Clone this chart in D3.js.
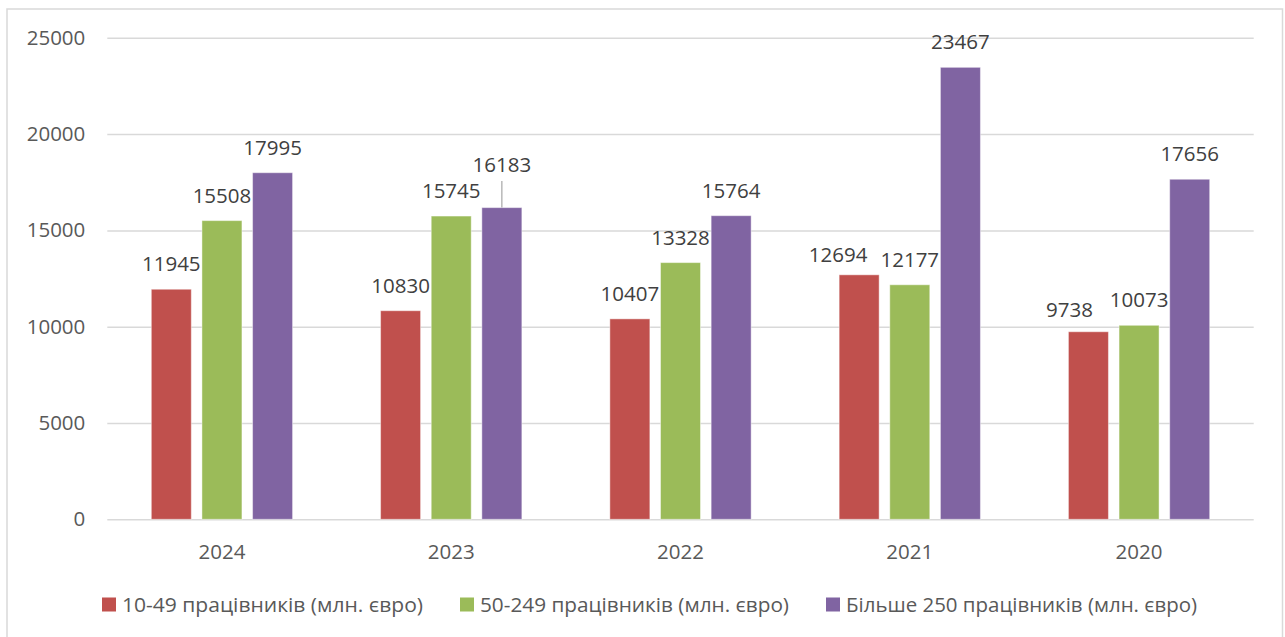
<!DOCTYPE html>
<html>
<head>
<meta charset="utf-8">
<script src="https://cdn.jsdelivr.net/npm/d3@7"></script>
<style>
  html, body { margin: 0; padding: 0; background: #ffffff; }
  svg { display: block; }
  text { font-family: "Open Sans", "Noto Sans", sans-serif; }
</style>
</head>
<body>
<svg id="chart" width="1285" height="637"></svg>
<script>
// Turnover by enterprise size, million euro
const categories = ["2024", "2023", "2022", "2021", "2020"];
const seriesNames = [
  "10-49 працівників (млн. євро)",
  "50-249 працівників (млн. євро)",
  "Більше 250 працівників (млн. євро)"
];
const small  = [11945, 10830, 10407, 12694, 9738];
const medium = [15508, 15745, 13328, 12177, 10073];
const large  = [17995, 16183, 15764, 23467, 17656];
const yTicks = [0, 5000, 10000, 15000, 20000, 25000];

const seriesValues = [small, medium, large];
const colors = ["#C0504D", "#9BBB59", "#8064A2"];

// Hand-placed label offsets (category|series -> shift in px)
const labelShift = {
  "2023|2": { dx: 0, dy: -18, leader: true },
  "2021|0": { dx: -21, dy: 5.5 },
  "2020|0": { dx: -19, dy: 3 }
};

const svg = d3.select("#chart");
const W = 1285, H = 637;

// chart frame
svg.append("rect")
  .attr("x", 7).attr("y", 9)
  .attr("width", 1275.5).attr("height", 660)
  .attr("fill", "#ffffff")
  .attr("stroke", "#d9d9d9").attr("stroke-width", 1.5);

const plot = { left: 107.3, right: 1253.7, top: 37.8, bottom: 519.3 };

const y = d3.scaleLinear().domain([0, 25000]).range([plot.bottom, plot.top]);
const x0 = d3.scaleBand().domain(categories).range([plot.left, plot.right]).padding(0);
const groupInset = 44;
const x1 = d3.scaleBand().domain(d3.range(seriesNames.length))
  .range([groupInset, x0.bandwidth() - groupInset])
  .paddingInner(0.21).paddingOuter(0);

// gridlines + y tick labels
const yAxis = svg.append("g")
  .attr("transform", `translate(${plot.left},0)`)
  .call(d3.axisLeft(y).tickValues(yTicks).tickFormat(d3.format("d"))
    .tickSize(-(plot.right - plot.left)).tickPadding(22));
yAxis.select(".domain").remove();
yAxis.selectAll(".tick line").attr("stroke", "#d9d9d9").attr("stroke-width", 1.5);
yAxis.selectAll(".tick text")
  .attr("fill", "#595959").attr("font-size", "20.5px")
  .attr("font-family", "'Open Sans', sans-serif");

// category labels
const xAxis = svg.append("g")
  .attr("transform", `translate(0,${plot.bottom})`)
  .call(d3.axisBottom(x0).tickSize(0));
xAxis.select(".domain").remove();
xAxis.selectAll(".tick text")
  .attr("y", 39.7).attr("dy", "0")
  .attr("fill", "#595959").attr("font-size", "20.5px")
  .attr("font-family", "'Open Sans', sans-serif");

// bars
const rows = categories.map((c, i) => ({
  cat: c,
  vals: seriesValues.map((s, k) => ({ cat: c, k, v: s[i] }))
}));

const groups = svg.append("g").selectAll("g")
  .data(rows).join("g")
  .attr("transform", d => `translate(${x0(d.cat)},0)`);

groups.selectAll("rect")
  .data(d => d.vals).join("rect")
  .attr("x", d => x1(d.k))
  .attr("width", x1.bandwidth())
  .attr("y", d => y(d.v))
  .attr("height", d => y(0) - y(d.v))
  .attr("fill", d => colors[d.k])
  .attr("stroke", "rgba(255,255,255,0.45)")
  .attr("stroke-width", 1);

// value labels
const labelGap = 18;
groups.each(function (row) {
  const g = d3.select(this);
  row.vals.forEach(d => {
    const s = labelShift[`${d.cat}|${d.k}`] || { dx: 0, dy: 0 };
    const cx = x1(d.k) + x1.bandwidth() / 2;
    const top = y(d.v);
    const base = top - labelGap + s.dy;
    if (s.leader) {
      g.append("line")
        .attr("x1", cx).attr("x2", cx)
        .attr("y1", base + 9.5).attr("y2", top)
        .attr("stroke", "#a6a6a6").attr("stroke-width", 1.2);
    }
    g.append("text")
      .attr("x", cx + s.dx).attr("y", base)
      .attr("text-anchor", "middle")
      .attr("fill", "#404040").attr("font-size", "20.5px")
      .text(d.v);
  });
});

// legend
const legendItems = [
  { sq: 102, tx: 122, len: 301 },
  { sq: 460, tx: 480, len: 309 },
  { sq: 826, tx: 846, len: 351 }
];
const legend = svg.append("g");
seriesNames.forEach((name, k) => {
  const it = legendItems[k];
  legend.append("rect")
    .attr("x", it.sq).attr("y", 597.5)
    .attr("width", 14).attr("height", 14)
    .attr("fill", colors[k]);
  legend.append("text")
    .attr("x", it.tx).attr("y", 612)
    .attr("fill", "#595959").attr("font-size", "20.5px")
    .attr("textLength", it.len).attr("lengthAdjust", "spacingAndGlyphs")
    .text(name);
});
</script>
</body>
</html>
